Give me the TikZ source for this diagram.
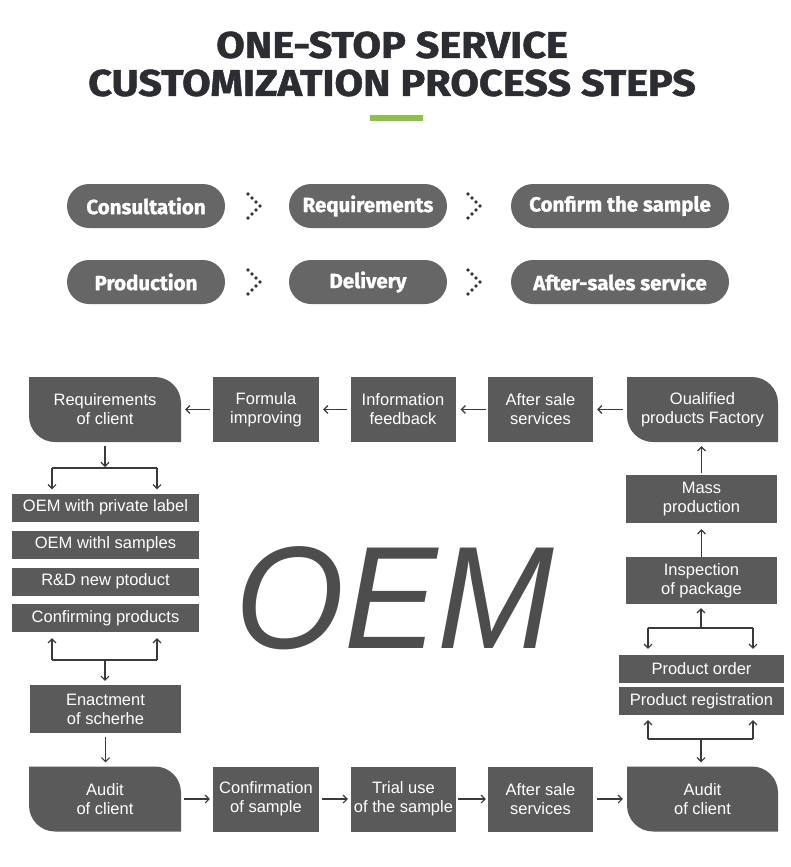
\documentclass[tikz,border=0pt]{standalone}
\usepackage{fontspec}
\usepackage{graphicx}
\setmainfont{Liberation Sans}
\newfontfamily\titlefont{Fira Sans}
\newfontfamily\heavyfont{Fira Sans}[BoldFeatures={FakeBold=1.2}]
\usetikzlibrary{arrows.meta,shapes.misc,calc}
\definecolor{boxc}{HTML}{5A5A5A}
\definecolor{pillc}{HTML}{666666}
\definecolor{titlec}{HTML}{2B2D33}
\definecolor{greenc}{HTML}{8BC34A}
\definecolor{linec}{HTML}{3A3A3A}
\definecolor{oemc}{HTML}{4D4D4D}
\definecolor{dotc}{HTML}{333333}
\tikzset{
  boxtext/.style={text=white, font=\fontsize{16.5}{19}\selectfont, align=center, inner sep=0pt},
  box/.style={boxtext, rectangle, fill=boxc},
  bigbox/.style={box, minimum height=65pt},
  slim/.style={box, minimum height=28pt},
  leafbox/.style={boxtext, rectangle, minimum width=152pt, minimum height=65pt,
    path picture={\fill[boxc] (path picture bounding box.north west)
      -- ([xshift=-26pt]path picture bounding box.north east)
      arc[start angle=90,end angle=0,radius=26pt]
      -- (path picture bounding box.south east)
      -- ([xshift=26pt]path picture bounding box.south west)
      arc[start angle=270,end angle=180,radius=26pt] -- cycle;}},
  pill/.style={rounded rectangle, fill=pillc, text=white,
    font=\heavyfont\bfseries\fontsize{20.5}{22}\selectfont, minimum height=44pt, inner sep=0pt},
  conn/.style={draw=linec, line width=1.1pt, -{Straight Barb[length=4pt,width=8pt]}},
  plain/.style={draw=linec, line width=1.1pt},
  titletext/.style={text=titlec, font=\heavyfont\bfseries\fontsize{37}{40}\selectfont, inner sep=0pt}
}
\begin{document}
\begin{tikzpicture}[x=1pt,y=1pt]
\useasboundingbox (0,0) rectangle (790,-867);
\fill[white] (0,0) rectangle (790,-867);

% title
\node[titletext] (t1) at (392,-45) {\scalebox{1.12}[1]{ONE-STOP SERVICE}};
\node[titletext] (t2) at (392,-83) {\scalebox{1.12}[1]{CUSTOMIZATION PROCESS STEPS}};
\fill[greenc] (370,-115) rectangle (423,-121);

% pills
\node[pill, minimum width=158pt] (p1) at (146,-206) {Consultation};
\node[pill, minimum width=158pt] (p2) at (368,-206) {Requirements};
\node[pill, minimum width=218pt] (p3) at (620,-206) {Confirm the sample};
\node[pill, minimum width=158pt] (p4) at (146,-282) {Production};
\node[pill, minimum width=158pt] (p5) at (368,-282) {Delivery};
\node[pill, minimum width=218pt] (p6) at (620,-282) {After-sales service};
\foreach \bx/\by in {248/194,468/194,248/270,468/270}
  \foreach \dx/\dy in {0/0,4/4,8/8,12/12,8/16,4/20,0/24}
    \fill[dotc] (\bx+\dx,-\by-\dy) circle (1.9pt);

% OEM
\node[text=oemc, inner sep=0pt] (oem) at (395,-598)
  {\scalebox{0.96}[1]{\fontsize{146}{146}\selectfont\itshape OEM}};

% top row
\node[leafbox] (req) at (105,-409.5) {Requirements\\of client};
\node[bigbox, minimum width=106pt] (form) at (266,-409.5) {Formula\\improving};
\node[bigbox, minimum width=105pt] (info) at (403,-409.5) {Information\\feedback};
\node[bigbox, minimum width=105pt] (aft1) at (540.5,-409.5) {After sale\\services};
\node[leafbox, minimum width=151pt] (qual) at (702.5,-409.5) {Oualified\\products Factory};

% bottom row
\node[leafbox] (aud1) at (105,-799) {Audit\\of client};
\node[bigbox, minimum width=106pt] (conf) at (266,-799) {Confirmation\\of sample};
\node[bigbox, minimum width=105pt] (trial) at (403.5,-799) {Trial use\\of the sample};
\node[bigbox, minimum width=105pt] (aft2) at (540.5,-799) {After sale\\services};
\node[leafbox, minimum width=151pt] (aud2) at (702.5,-799) {Audit\\of client};

% left column
\node[slim, minimum width=187pt] (o1) at (105.5,-507.5) {OEM with private label};
\node[slim, minimum width=187pt] (o2) at (105.5,-544.5) {OEM withl samples};
\node[slim, minimum width=187pt] (o3) at (105.5,-581.5) {R\&D new ptoduct};
\node[slim, minimum width=187pt] (o4) at (105.5,-618) {Confirming products};
\node[box, minimum width=151pt, minimum height=48pt] (enact) at (105.5,-709) {Enactment\\of scherhe};

% right column
\node[box, minimum width=151pt, minimum height=48pt] (mass) at (701.5,-499) {Mass\\production};
\node[box, minimum width=151pt, minimum height=47pt] (insp) at (701.5,-580.5) {Inspection\\of package};
\node[slim, minimum width=165pt] (ord) at (701.5,-669) {Product order};
\node[slim, minimum width=165pt] (reg) at (701.5,-701) {Product registration};

% fork coordinates
\coordinate (fm1) at (105,-468);
\coordinate (fl1) at (52,-468);
\coordinate (fr1) at (157,-468);
\coordinate (fm2) at (105,-660);
\coordinate (fl2) at (52,-660);
\coordinate (fr2) at (157,-660);
\coordinate (fm3) at (701,-628);
\coordinate (fl3) at (648,-628);
\coordinate (fr3) at (753,-628);
\coordinate (fm4) at (701,-739);
\coordinate (fl4) at (648,-739);
\coordinate (fr4) at (753,-739);

% top row connectors
\draw[conn, shorten <=3pt, shorten >=4pt] (form) -- (req);
\draw[conn, shorten <=3pt, shorten >=4pt] (info) -- (form);
\draw[conn, shorten <=2pt, shorten >=5pt] (aft1) -- (info);
\draw[conn, shorten <=4pt, shorten >=4pt] (qual) -- (aft1);

% bottom row connectors
\draw[conn, shorten <=3pt, shorten >=3pt] (aud1) -- (conf);
\draw[conn, shorten <=3pt, shorten >=3pt] (conf) -- (trial);
\draw[conn, shorten <=2pt, shorten >=2pt] (trial) -- (aft2);
\draw[conn, shorten <=4pt, shorten >=4pt] (aft2) -- (aud2);

% left connectors
\draw[conn, shorten <=4pt, shorten >=1pt] (req.south) -- (fm1);
\draw[plain] (fl1) -- (fr1);
\draw[conn, shorten >=4pt] (fl1) -- (fl1 |- o1.north);
\draw[conn, shorten >=4pt] (fr1) -- (fr1 |- o1.north);
\draw[plain] (fl2) -- (fr2);
\draw[conn, shorten >=6pt] (fl2) -- (fl2 |- o4.south);
\draw[conn, shorten >=6pt] (fr2) -- (fr2 |- o4.south);
\draw[conn, shorten >=4pt] (fm2) -- (fm2 |- enact.north);
\draw[conn, shorten <=4pt, shorten >=4pt] (enact.south) -- (enact.south |- aud1.north);

% right connectors
\draw[conn, shorten <=2pt, shorten >=4pt] (mass.north) -- (mass.north |- qual.south);
\draw[conn, shorten >=6pt] (insp.north) -- (insp.north |- mass.south);
\draw[conn, shorten >=4pt] (fm3) -- (fm3 |- insp.south);
\draw[plain] (fl3) -- (fr3);
\draw[conn, shorten >=6pt] (fl3) -- (fl3 |- ord.north);
\draw[conn, shorten >=6pt] (fr3) -- (fr3 |- ord.north);
\draw[plain] (fl4) -- (fr4);
\draw[conn, shorten >=5pt] (fl4) -- (fl4 |- reg.south);
\draw[conn, shorten >=5pt] (fr4) -- (fr4 |- reg.south);
\draw[conn, shorten >=4pt] (fm4) -- (fm4 |- aud2.north);
\end{tikzpicture}
\end{document}
